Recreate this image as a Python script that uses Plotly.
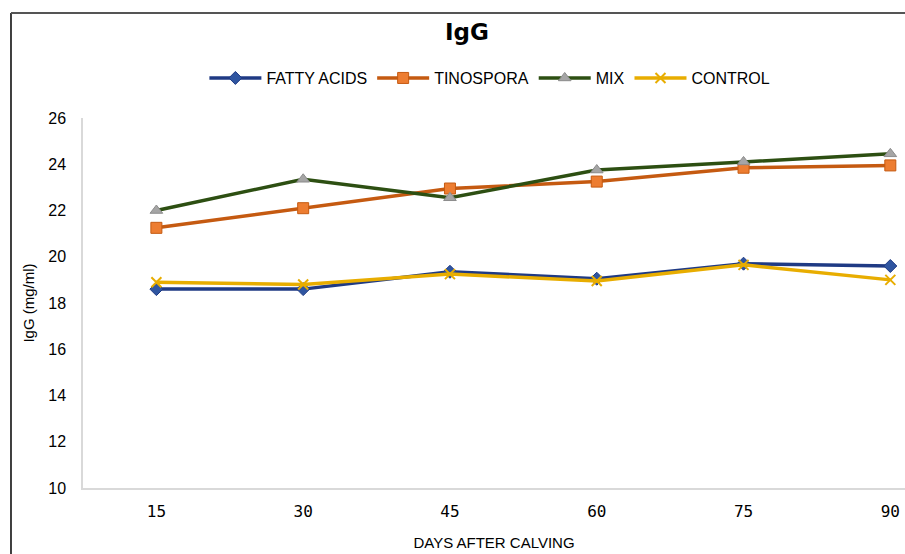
import plotly.graph_objects as go

days = ["15", "30", "45", "60", "75", "90"]
fatty_acids = [18.6, 18.6, 19.35, 19.05, 19.7, 19.6]
tinospora = [21.25, 22.1, 22.95, 23.25, 23.85, 23.95]
mix = [22.0, 23.35, 22.55, 23.75, 24.1, 24.45]
control = [18.9, 18.8, 19.25, 18.95, 19.65, 19.0]

FONT = "Liberation Sans"

fig = go.Figure()
fig.add_trace(go.Scatter(
    x=days, y=fatty_acids, name="FATTY ACIDS", mode="lines+markers",
    line=dict(color="#1f3a84", width=3.5),
    marker=dict(symbol="diamond", size=10, color="#2f55a0", line=dict(color="#1f3a84", width=1))))
fig.add_trace(go.Scatter(
    x=days, y=tinospora, name="TINOSPORA", mode="lines+markers",
    line=dict(color="#c55a11", width=3.5),
    marker=dict(symbol="square", size=11, color="#ed7d31", line=dict(color="#c55a11", width=1))))
fig.add_trace(go.Scatter(
    x=days, y=mix, name="MIX", mode="lines+markers",
    line=dict(color="#2d4f12", width=3.5),
    marker=dict(symbol="triangle-up", size=11, color="#a5a5a5", line=dict(color="#8c8c8c", width=1))))
fig.add_trace(go.Scatter(
    x=days, y=control, name="CONTROL", mode="lines+markers",
    line=dict(color="#e8ad00", width=3.5),
    marker=dict(symbol="x-thin", size=10, color="#e8ad00", line=dict(color="#e8ad00", width=2))))

fig.update_layout(
    width=905, height=554,
    margin=dict(l=83, r=0, t=118, b=66),
    paper_bgcolor="white", plot_bgcolor="white",
    font=dict(family=FONT, color="#000000", size=15),
    title=dict(text="<b>IgG</b>", x=0.516, xanchor="center", y=0.942, yanchor="middle",
               font=dict(size=23, family="DejaVu Sans", color="#000")),
    showlegend=True,
    legend=dict(orientation="h", x=0.495, xanchor="center", y=1.108, yanchor="middle",
                font=dict(size=16, family=FONT), tracegroupgap=0, itemwidth=52,
                bgcolor="rgba(0,0,0,0)"),
    xaxis=dict(type="category", range=[-0.5, 5.1], showgrid=False, automargin=False,
               showline=True, linecolor="#d9d9d9", linewidth=1.5, ticks="",
               ticklabelstandoff=8,
               tickfont=dict(size=16, family="DejaVu Sans Mono"),
               title=dict(text="DAYS AFTER CALVING", font=dict(size=15, family=FONT), standoff=18)),
    yaxis=dict(range=[10, 26], dtick=2, showgrid=False, zeroline=False, automargin=False,
               showline=True, linecolor="#d9d9d9", linewidth=1.5, ticks="",
               ticklabelstandoff=12,
               tickfont=dict(size=16, family=FONT),
               title=dict(text="IgG (mg/ml)", font=dict(size=15, family=FONT), standoff=10)),
)

# chart-area border (cropped reference shows left and top edges)
fig.add_shape(type="line", xref="paper", yref="paper", x0=-0.0876, x1=-0.0876, y0=-0.2, y1=1.284,
              line=dict(color="#000", width=1.5))
fig.add_shape(type="line", xref="paper", yref="paper", x0=-0.0876, x1=1.0, y0=1.284, y1=1.284,
              line=dict(color="#555", width=2))

fig.write_html("out.html", config={"displayModeBar": False},
               post_script="document.body.style.margin='0';document.body.style.overflow='hidden';")
